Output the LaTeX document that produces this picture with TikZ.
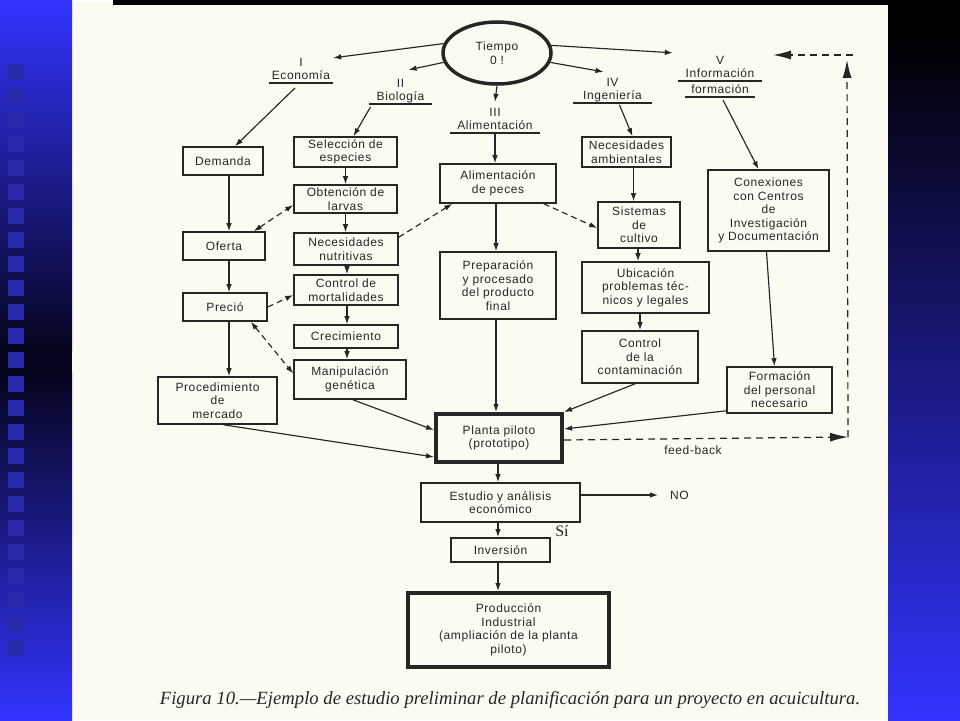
\documentclass[tikz,border=0pt]{standalone}
\usepackage{fontspec}
\setmainfont{Liberation Sans}[LetterSpace=5]
\newfontfamily\capfont{Liberation Serif}
\usetikzlibrary{arrows.meta,calc,shapes.geometric}
\definecolor{ink}{HTML}{262626}
\definecolor{paper}{HTML}{FCFBF2}
\definecolor{bblue}{RGB}{51,51,255}
\definecolor{dblue}{RGB}{5,5,30}
\definecolor{sqblue}{RGB}{42,42,172}
\tikzset{
  box/.style={draw=ink, line width=1.6pt, align=center, inner sep=0pt, text=ink},
  thickbox/.style={box, line width=4pt},
  lab/.style={align=center, inner sep=0pt, text depth=3pt, text=ink, anchor=south},
  uline/.style={draw=ink, line width=1.3pt},
  arr/.style={draw=ink, line width=1.15pt, -{Latex[length=8pt,width=5.5pt]}},
  darr/.style={arr, dash pattern=on 6pt off 4pt},
  ddarr/.style={darr, {Latex[length=8pt,width=5.5pt]}-{Latex[length=8pt,width=5.5pt]}},
  bigarr/.style={draw=ink, line width=1.2pt, dash pattern=on 7pt off 5pt, -{Latex[length=18pt,width=9pt]}},
  txt/.style={inner sep=0pt, text=ink}
}
\begin{document}
\begin{tikzpicture}[x=1pt,y=-1pt,font=\fontsize{12}{13.5}\selectfont]
\useasboundingbox (0,0) rectangle (960,720);
% ---------- background ----------
\fill[paper] (72,2) rectangle (888,720);
\fill[black] (113,0) rectangle (888,5);
\shade[top color=bblue, bottom color=dblue] (0,0) rectangle (72,350);
\fill[dblue] (0,350) rectangle (72,372);
\shade[top color=dblue, bottom color=bblue] (0,372) rectangle (72,720);
\foreach \k in {-10,...,14} {
  \fill[sqblue] (8,{304+24*\k}) rectangle (24,{320+24*\k});
}
\fill[black] (888,0) rectangle (960,30);
\shade[top color=black, bottom color=bblue] (888,30) rectangle (960,720);

% ---------- top ellipse ----------
\node[draw=ink, line width=3.5pt, ellipse, minimum width=108pt, minimum height=62pt,
      inner sep=0pt, align=center, text=ink] (tiempo) at (497,53) {Tiempo\\0 !};

% ---------- category labels ----------
\node[lab, minimum width=64pt] (labI) at (301,83) {I\\Economía};
\node[lab, minimum width=63pt] (labII) at (400.5,104) {II\\Biología};
\node[lab, minimum width=90pt] (labIII) at (495,133) {III\\Alimentación};
\node[lab, minimum width=79pt] (labIV) at (612.5,103) {IV\\Ingeniería};
\node[lab, minimum width=84pt] (labV) at (720,81) {V\\Información};
\node[lab, minimum width=70pt] (labVb) at (720,97) {formación};
\foreach \n in {labI,labII,labIII,labIV,labV,labVb}
  \draw[uline] (\n.south west) -- (\n.south east);

% ---------- boxes ----------
\node[box, minimum width=80pt, minimum height=28pt] (demanda) at (223,161) {Demanda};
\node[box, minimum width=103pt, minimum height=30pt] (selec) at (345.5,152) {Selección de\\especies};
\node[box, minimum width=103pt, minimum height=28pt] (obten) at (345.5,199) {Obtención de\\larvas};
\node[box, minimum width=116pt, minimum height=39pt] (alimp) at (498,183.5) {Alimentación\\de peces};
\node[box, minimum width=89pt, minimum height=30pt] (necamb) at (626.5,152) {Necesidades\\ambientales};
\node[box, minimum width=82pt, minimum height=46pt] (sist) at (639,225) {Sistemas\\de\\cultivo};
\node[box, minimum width=121pt, minimum height=81pt] (conex) at (768.5,210.5) {Conexiones\\con Centros\\de\\Investigación\\y Documentación};
\node[box, minimum width=82pt, minimum height=28pt] (oferta) at (224,246) {Oferta};
\node[box, minimum width=104pt, minimum height=32pt] (necnut) at (346,249) {Necesidades\\nutritivas};
\node[box, minimum width=116pt, minimum height=67pt] (prep) at (498,285.5) {Preparación\\y procesado\\del producto\\final};
\node[box, minimum width=84pt, minimum height=28pt] (precio) at (225,307) {Preció};
\node[box, minimum width=104pt, minimum height=30pt] (control) at (346,290) {Control de\\mortalidades};
\node[box, minimum width=104pt, minimum height=23pt] (crec) at (346,336.5) {Crecimiento};
\node[box, minimum width=112pt, minimum height=39pt] (manip) at (350,379.5) {Manipulación\\genética};
\node[box, minimum width=119pt, minimum height=47pt] (proced) at (217.5,400.5) {Procedimiento\\de\\mercado};
\node[thickbox, minimum width=126pt, minimum height=48pt] (planta) at (499,438) {Planta piloto\\(prototipo)};
\node[box, minimum width=127pt, minimum height=51pt] (ubic) at (645.5,287.5) {Ubicación\\problemas téc-\\nicos y legales};
\node[box, minimum width=116pt, minimum height=52pt] (contam) at (640,357) {Control\\de la\\contaminación};
\node[box, minimum width=105pt, minimum height=46pt] (formac) at (779.5,390) {Formación\\del personal\\necesario};
\node[box, minimum width=159pt, minimum height=39pt] (estudio) at (500.5,502.5) {Estudio y análisis\\económico};
\node[box, minimum width=99pt, minimum height=24pt] (inversion) at (500.5,550) {Inversión};
\node[thickbox, minimum width=201pt, minimum height=74pt] (prod) at (508.5,630) {Producción\\Industrial\\(ampliación de la planta\\piloto)};

% ---------- free texts ----------
\node[txt, anchor=west] (no) at (670,495) {NO};
\node[txt, font=\capfont\fontsize{16}{16}\selectfont] (si) at (562,531) {Sí};
\node[txt] (fbtext) at (693,450) {feed-back};
\node[txt, font=\capfont\itshape\fontsize{18.7}{19}\selectfont] (caption) at (510,700)
  {Figura 10.—Ejemplo de estudio preliminar de planificación para un proyecto en acuicultura.};

% ---------- arrows from Tiempo ----------
\draw[arr] (tiempo.170) -- (labI.north east);
\draw[arr] (tiempo.190) -- ($(labII.north)+(8,-9)$);
\draw[arr] (tiempo.south) -- ($(labIII.north)+(0,-6)$);
\draw[arr] (tiempo.-10) -- ($(labIV.north)+(-9,-6)$);
\draw[arr] (tiempo.8) -- ($(labV.north west)+(-5,-3)$);

% ---------- from labels ----------
\draw[arr] ($(labI.south)+(-6,5)$) -- ([xshift=12pt]demanda.north);
\draw[arr] ($(labII.south)+(-30,3)$) -- ([xshift=8pt]selec.north);
\draw[arr] (labIII.south) -- (labIII.south |- alimp.north);
\draw[arr] ($(labIV.south)+(7,2)$) -- ([xshift=6pt]necamb.north);
\draw[arr] ($(labVb.south)+(3,3)$) -- ([xshift=-10pt]conex.north);

% ---------- vertical chains ----------
\draw[arr] ([xshift=6pt]demanda.south) -- ([xshift=6pt]demanda.south |- oferta.north);
\draw[arr] ([xshift=5pt]oferta.south) -- ([xshift=5pt]oferta.south |- precio.north);
\draw[arr] ([xshift=4pt]precio.south) -- ([xshift=4pt]precio.south |- proced.north);
\draw[arr] (selec.south) -- (selec.south |- obten.north);
\draw[arr] (obten.south) -- (obten.south |- necnut.north);
\draw[arr] ([xshift=1pt]necnut.south) -- ([xshift=1pt]necnut.south |- control.north);
\draw[arr] ([xshift=1pt]control.south) -- ([xshift=1pt]control.south |- crec.north);
\draw[arr] ([xshift=1pt]crec.south) -- ([xshift=1pt]crec.south |- manip.north);
\draw[arr] ([xshift=-2pt]alimp.south) -- ([xshift=-2pt]alimp.south |- prep.north);
\draw[arr] ([xshift=-2pt]prep.south) -- ([xshift=-2pt]prep.south |- planta.north);
\draw[arr] ([xshift=7pt]necamb.south) -- ([xshift=7pt]necamb.south |- sist.north);
\draw[arr] ([xshift=-1pt]sist.south) -- ([xshift=-1pt]sist.south |- ubic.north);
\draw[arr] (contam.north |- ubic.south) -- (contam.north);
\draw[arr] ([xshift=-2pt]conex.south) -- ([xshift=-5pt]formac.north);

% ---------- into Planta piloto ----------
\draw[arr] ([xshift=-5pt]contam.south) -- (planta.north east);
\draw[arr] ([yshift=3pt]formac.south west) -- ([yshift=9pt]planta.east);
\draw[arr] ([xshift=3pt]manip.south) -- ([yshift=8pt]planta.west);
\draw[arr] ([xshift=6pt]proced.south) -- ([yshift=-19pt]planta.west);

% ---------- lower chain ----------
\draw[arr] ([xshift=-1pt]planta.south) -- ([xshift=-1pt]planta.south |- estudio.north);
\draw[arr] ([xshift=-2.5pt]estudio.south) -- ([xshift=-2.5pt]estudio.south |- inversion.north);
\draw[arr] ([xshift=-2.5pt]inversion.south) -- ([xshift=-2.5pt]inversion.south |- prod.north);
\draw[arr] ([yshift=7.5pt]estudio.east) -- ([xshift=-12pt]no.west);

% ---------- dashed links ----------
\draw[ddarr] ([xshift=-12pt]oferta.north east) -- ([yshift=-6pt]obten.west);
\draw[darr] ([yshift=-5pt]necnut.north east) -- ([xshift=13pt]alimp.south west);
\draw[darr] ([xshift=-13pt]alimp.south east) -- ([yshift=-3pt]sist.west);
\draw[darr] (precio.east) -- ([yshift=-5pt]control.west);
\draw[ddarr] ([xshift=-17pt]precio.south east) -- ([yshift=6pt]manip.west);

% ---------- feed-back loop ----------
\coordinate (fbcorner) at (848,437);
\coordinate (fbtop) at (847,60);
\coordinate (fbstart) at (853,55);
\coordinate (fbend) at (773,55);
\draw[bigarr] ([yshift=-2pt]planta.east) -- (fbcorner);
\draw[bigarr] (fbcorner) -- (fbtop);
\draw[bigarr] (fbstart) -- (fbend);
\end{tikzpicture}
\end{document}
